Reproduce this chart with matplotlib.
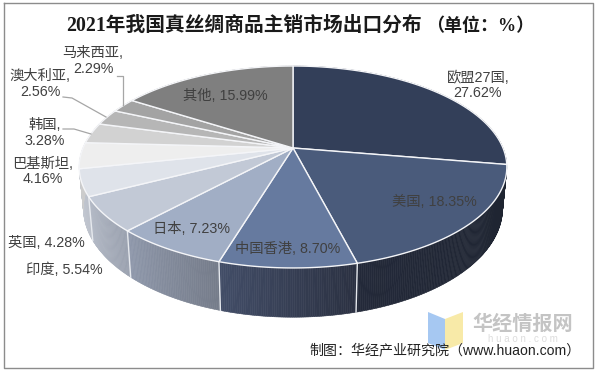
import numpy as np
import matplotlib
matplotlib.use('Agg')
import matplotlib.pyplot as plt
from matplotlib.colors import to_rgb

names = ['欧盟27国', '美国', '中国香港', '日本', '印度', '英国', '巴基斯坦', '韩国', '澳大利亚', '马来西亚', '其他']
values = [27.62, 18.35, 8.70, 7.23, 5.54, 4.28, 4.16, 3.28, 2.56, 2.29, 15.99]
top_colors = ['#333f59', '#4a5b7b', '#667a9f', '#a1aec5', '#c2c9d6', '#dfe3ea',
              '#eeeeee', '#d2d2d2', '#b6b6b6', '#a3a3a3', '#7f7f7f']
wall_start = ['#1b2130', '#1e2430', '#2b3142', '#757c8a', '#9aa1af', '#bcc1cb',
              '#cccccc', '#bbbbbb', '#aaaaaa', '#999999', '#777777']
wall_end = ['#1e2430', '#232939', '#424d67', '#8f98ab', '#b4bac6', '#c4c9d2',
            '#cccccc', '#bbbbbb', '#aaaaaa', '#999999', '#777777']

# label centre in pixels, whether the value goes on a second line
label_pos = [(478, 85, True), (434, 202, False), (287.5, 249, False), (191.5, 229, False),
             (64.5, 270, False), (46, 243, False), (43, 171, True), (45, 133, True),
             (40, 84, True), (93, 61, True), (225, 96, False)]

CX, CY = 293, 148
SX, SY, K = 210, 97.4, 0.188   # perspective of the pie
DEPTH = 40


def rim(a, bottom=False):
    # a in degrees, clockwise from the top
    u = np.sin(np.radians(a))
    v = -np.cos(np.radians(a))
    w = 1 - K * v
    if bottom:
        return CX + 0.98 * SX * u / w, CY + (SY * v + DEPTH) / w
    return CX + SX * u / w, CY + SY * v / w


fig = plt.figure(figsize=(5.97, 3.72), dpi=100)
ax = fig.add_axes([0, 0, 1, 1])
ax.set_xlim(0, 597)
ax.set_ylim(372, 0)
ax.axis('off')

# frame
ax.plot([3.5, 593, 593, 3.5, 3.5], [2.5, 2.5, 368, 368, 2.5], color='#8c8c8c', lw=1)

edges = np.cumsum([0] + values) / sum(values) * 360

# side walls first, the top faces cover the back ones
for i in range(len(values)):
    c0 = np.array(to_rgb(wall_start[i]))
    c1 = np.array(to_rgb(wall_end[i]))
    n = max(int(edges[i + 1] - edges[i]) * 2, 2)
    steps = np.linspace(edges[i], edges[i + 1], n + 1)
    for j in range(n):
        aa = np.linspace(steps[j], steps[j + 1], 3)
        x1, y1 = rim(aa)
        x2, y2 = rim(aa[::-1], bottom=True)
        col = c0 + (c1 - c0) * j / (n - 1)
        ax.fill(np.r_[x1, x2], np.r_[y1, y2], color=col, lw=0.4, zorder=2)

for e in edges[2:6]:
    xa, ya = rim(e)
    xb, yb = rim(e, bottom=True)
    ax.plot([xa, xb], [ya, yb], color='#e6e9ee', lw=1, zorder=3)

# top faces
for i in range(len(values)):
    aa = np.linspace(edges[i], edges[i + 1], 80)
    x, y = rim(aa)
    ax.fill(np.r_[CX, x], np.r_[CY, y], facecolor=top_colors[i], edgecolor='#f4f5f8',
            lw=1, zorder=4, joinstyle='round')

# labels
font = ['Liberation Sans', 'Noto Sans CJK SC']
for name, val, (x, y, two) in zip(names, values, label_pos):
    sep = ',\n' if two else ', '
    ax.text(x, y, f'{name}{sep}{val:.2f}%', family=font, fontsize=10.3, color='#404040',
            ha='center', va='center', linespacing=1.1, zorder=6)

# leader lines
ax.plot([117, 123, 123], [76, 76, 105], color='#a6a6a6', lw=0.9, zorder=5)
ax.plot([63, 72, 106], [97, 98, 117], color='#a6a6a6', lw=0.9, zorder=5)
ax.plot([63, 74, 91], [129, 129, 134], color='#a6a6a6', lw=0.9, zorder=5)

# the brackets of the title are narrower in the reference, so two pieces
title_font = ['Liberation Serif', 'Noto Sans CJK SC']
ax.text(66, 26, '2021年我国真丝绸商品主销市场出口分布', family=title_font, fontsize=14.2,
        fontweight='bold', color='#1a1a1a', ha='left', va='center', zorder=6)
ax.text(426, 26, '（单位：%）', family=title_font, fontsize=13,
        fontweight='bold', color='#1a1a1a', ha='left', va='center', zorder=6)

# watermark
ax.fill([428, 445, 445, 428], [312, 319, 350, 343], color='#a6c8f2', lw=0, zorder=1)
ax.fill([445, 463, 463, 445], [319, 312, 343, 350], color='#f8eaa8', lw=0, zorder=1)
ax.text(523, 324, '华经情报网', family=font, fontsize=14.5, fontweight='bold',
        color='#c4c4c4', ha='center', va='center', zorder=1)
ax.text(523, 338.5, 'h u a o n . c o m', family=font, fontsize=7, color='#dddddd',
        ha='center', va='center', zorder=1)
ax.text(445, 350, '制图：华经产业研究院（www.huaon.com）', family=font, fontsize=10.1,
        color='#222222', ha='center', va='center', zorder=6)

fig.savefig('out.png', dpi=100)
